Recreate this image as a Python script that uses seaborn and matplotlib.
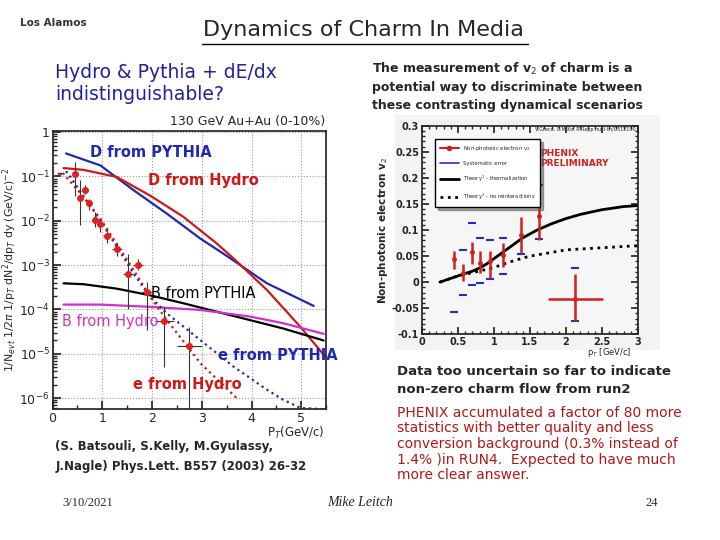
import numpy as np
import pandas as pd
import matplotlib
matplotlib.use("Agg")
import matplotlib.pyplot as plt
import seaborn as sns
from matplotlib.lines import Line2D
from matplotlib.patches import Rectangle

sns.set_theme(style="ticks")
plt.rcParams['font.family'] = ['DejaVu Sans']

# ---- left plot: pT spectra (log10 values) ----
d_pythia_x = [0.27, 0.96, 1.63, 2.30, 2.97, 3.50, 4.31, 5.25]
d_pythia_y = [-0.48, -0.75, -1.31, -1.84, -2.40, -2.79, -3.41, -3.92]
d_hydro_x = [0.22, 0.62, 1.29, 1.96, 2.63, 3.30, 3.64, 4.31, 4.98, 5.48]
d_hydro_y = [-0.81, -0.85, -1.01, -1.43, -1.91, -2.51, -2.85, -3.56, -4.39, -5.06]
b_pythia_x = [0.22, 0.62, 1.29, 1.96, 2.63, 3.30, 3.97, 4.64, 5.45]
b_pythia_y = [-3.41, -3.43, -3.53, -3.68, -3.86, -4.05, -4.24, -4.43, -4.70]
b_hydro_x = [0.22, 0.96, 1.96, 2.97, 3.97, 4.64, 5.45]
b_hydro_y = [-3.89, -3.89, -3.94, -4.01, -4.16, -4.31, -4.55]
e_pythia_x = [0.15, 0.29, 0.96, 1.63, 1.96, 2.30, 2.97, 3.64, 4.31, 4.64, 4.98, 5.45]
e_pythia_y = [-0.95, -0.90, -1.99, -3.19, -3.71, -4.09, -4.69, -5.29, -5.81, -6.04, -6.22, -6.25]
e_hydro_x = [0.0, 0.19, 0.62, 0.96, 1.63, 1.96, 2.30, 2.97, 3.74]
e_hydro_y = [-1.01, -0.90, -1.46, -1.95, -3.11, -3.71, -4.24, -5.21, -6.04]

spec_x = [0.46, 0.56, 0.66, 0.74, 0.86, 0.96, 1.09, 1.29, 1.51, 1.71, 1.90, 2.25, 2.75]
spec_y = [-0.95, -1.48, -1.30, -1.60, -1.99, -2.08, -2.35, -2.63, -3.21, -3.00, -3.60, -4.26, -4.82]
spec_hi = [-0.68, -1.09, -1.20, -1.50, -1.80, -1.95, -2.20, -2.50, -2.74, -2.85, -3.39, -3.94, -4.39]
spec_lo = [-1.45, -2.10, -1.40, -1.75, -2.15, -2.25, -2.50, -2.80, -3.99, -3.10, -4.46, -5.29, -6.30]
spec_xerr = [0.05, 0.05, 0.05, 0.05, 0.05, 0.05, 0.08, 0.1, 0.1, 0.1, 0.1, 0.2, 0.25]

# ---- right plot: v2 ----
v2_x = [0.45, 0.57, 0.69, 0.81, 0.94, 1.12, 1.37, 1.62, 2.13]
v2_y = [0.045, 0.018, 0.057, 0.037, 0.040, 0.052, 0.090, 0.127, -0.033]
v2_hi = [0.060, 0.035, 0.078, 0.060, 0.060, 0.075, 0.125, 0.175, 0.015]
v2_lo = [0.025, 0.003, 0.035, 0.018, 0.008, 0.030, 0.055, 0.080, -0.075]
v2_xerr = [0, 0, 0, 0, 0, 0, 0, 0, 0.38]
sys_hi = [0.145, 0.062, 0.114, 0.085, 0.080, 0.085, 0.150, 0.187, 0.028]
sys_lo = [-0.057, -0.025, -0.006, -0.002, 0.006, 0.015, 0.054, 0.082, -0.075]
therm_x = [0.25, 0.5, 0.7, 0.8, 0.9, 1.0, 1.2, 1.4, 1.6, 1.8, 2.0, 2.2, 2.5, 2.8, 3.0]
therm_y = [0.0, 0.012, 0.021, 0.027, 0.035, 0.045, 0.065, 0.085, 0.100, 0.112, 0.122, 0.130, 0.139, 0.145, 0.147]
norsc_x = [0.25, 0.5, 0.7, 1.0, 1.2, 1.5, 1.8, 2.0, 2.5, 3.0]
norsc_y = [0.0, 0.012, 0.018, 0.028, 0.038, 0.050, 0.057, 0.062, 0.066, 0.070]

fig = plt.figure(figsize=(7.2, 5.4), dpi=100)
fig.patch.set_facecolor('white')

# slide texts
fig.text(0.505, 0.945, "Dynamics of Charm In Media", ha='center', va='center', fontsize=16)
fig.add_artist(Line2D([0.28, 0.733], [0.918, 0.918], color='black', lw=1))
fig.text(0.028, 0.958, "Los Alamos", fontsize=7.5, fontweight='bold', color='#333333', va='center')
fig.text(0.077, 0.845, "Hydro & Pythia + dE/dx\nindistinguishable?", color='#2020a0',
         fontsize=13.5, va='center', linespacing=1.2)
fig.text(0.517, 0.84, "The measurement of v$_2$ of charm is a\npotential way to discriminate between\n"
         "these contrasting dynamical scenarios", fontsize=9, fontweight='bold',
         va='center', linespacing=1.45)
fig.text(0.551, 0.295, "Data too uncertain so far to indicate\nnon-zero charm flow from run2",
         fontsize=9.5, fontweight='bold', va='center', linespacing=1.45)
fig.text(0.551, 0.178, "PHENIX accumulated a factor of 80 more\nstatistics with better quality and less\n"
         "conversion background (0.3% instead of\n1.4% )in RUN4.  Expected to have much\n"
         "more clear answer.", color='#b01818', fontsize=10, va='center', linespacing=1.15)
fig.text(0.077, 0.155, "(S. Batsouli, S.Kelly, M.Gyulassy,\nJ.Nagle) Phys.Lett. B557 (2003) 26-32",
         fontsize=8.5, fontweight='bold', va='center', linespacing=1.65)
fig.text(0.086, 0.069, "3/10/2021", fontsize=9, family='Liberation Serif', va='center')
fig.text(0.5, 0.069, "Mike Leitch", fontsize=10, family='Liberation Serif', style='italic', ha='center', va='center')
fig.text(0.905, 0.069, "24", fontsize=9, family='Liberation Serif', ha='center', va='center')

# ---------------- left axes ----------------
ax = fig.add_axes([0.073, 0.243, 0.380, 0.514])
curves = [
    (d_pythia_x, d_pythia_y, '#1f28b0', '-'),
    (d_hydro_x, d_hydro_y, '#d01818', '-'),
    (b_pythia_x, b_pythia_y, 'black', '-'),
    (b_hydro_x, b_hydro_y, '#d030d0', '-'),
    (e_pythia_x, e_pythia_y, '#1f28b0', ':'),
    (e_hydro_x, e_hydro_y, '#d01818', ':'),
]
for cx, cy, col, ls in curves:
    df = pd.DataFrame({'pt': cx, 'val': np.power(10.0, cy)})
    sns.lineplot(data=df, x='pt', y='val', ax=ax, color=col, linestyle=ls, lw=1.6)

sy = np.power(10.0, spec_y)
yerr = [sy - np.power(10.0, spec_lo), np.power(10.0, spec_hi) - sy]
ax.errorbar(spec_x, sy, yerr=yerr, xerr=spec_xerr, fmt='o', color='#333333', ecolor='#333333',
            elinewidth=0.8, ms=4, mfc='#e02020', mec='#e02020', capsize=0)
ax.set_yscale('log')
ax.set_xlim(0, 5.5)
ax.set_ylim(10 ** -6.24, 1.05)
ax.set_xticks([0, 1, 2, 3, 4, 5])
ax.set_yticks([1, 1e-1, 1e-2, 1e-3, 1e-4, 1e-5, 1e-6])
ax.set_yticklabels(['1', '$10^{-1}$', '$10^{-2}$', '$10^{-3}$', '$10^{-4}$', '$10^{-5}$', '$10^{-6}$'])
ax.tick_params(labelsize=9, direction='in', length=6, pad=2)
ax.tick_params(which='minor', direction='in', length=3)
ax.xaxis.set_minor_locator(matplotlib.ticker.MultipleLocator(0.5))
ax.grid(True, which='major', linestyle=':', color='#999999', lw=0.8)
ax.set_xlabel('')
ax.set_ylabel(r'1/N$_{evt}$ 1/2$\pi$ 1/p$_T$ dN$^2$/dp$_T$ dy (GeV/c)$^{-2}$', fontsize=7.8, labelpad=0)
ax.text(0.995, -0.058, r'P$_T$(GeV/c)', transform=ax.transAxes, ha='right', va='top', fontsize=8.5)
ax.text(0.995, 1.01, '130 GeV Au+Au (0-10%)', transform=ax.transAxes, ha='right', va='bottom', fontsize=9)

ann = [
    (0.76, -0.46, 'D from PYTHIA', '#1f28b0', 'bold'),
    (1.91, -1.09, 'D from Hydro', '#d01818', 'bold'),
    (1.97, -3.63, 'B from PYTHIA', 'black', 'normal'),
    (0.18, -4.28, 'B from Hydro', '#d030d0', 'normal'),
    (3.32, -5.04, 'e from PYTHIA', '#1f28b0', 'bold'),
    (1.61, -5.70, 'e from Hydro', '#d01818', 'bold'),
]
for tx, ty, s, col, fw in ann:
    ax.text(tx, 10 ** ty, s, color=col, fontsize=10.5, fontweight=fw, va='center')

# ---------------- right axes ----------------
fig.add_artist(Rectangle((0.549, 0.352), 0.368, 0.435, transform=fig.transFigure,
                         facecolor='#f3f3f3', edgecolor='none', zorder=-1))
ax2 = fig.add_axes([0.586, 0.381, 0.300, 0.386])
ax2.set_facecolor('#f6f6f6')
sns.lineplot(x=therm_x, y=therm_y, ax=ax2, color='black', lw=2)
sns.lineplot(x=norsc_x, y=norsc_y, ax=ax2, color='black', lw=2, linestyle=':')
ax2.plot(v2_x, sys_hi, '_', color='#2030c0', ms=6, mew=1.5)
ax2.plot(v2_x, sys_lo, '_', color='#2030c0', ms=6, mew=1.5)
vy = np.array(v2_y)
ax2.errorbar(v2_x, vy, yerr=[vy - np.array(v2_lo), np.array(v2_hi) - vy], xerr=v2_xerr,
             fmt='o', color='#d02020', ms=2.5, elinewidth=1.8, capsize=0)
ax2.set_xlim(0, 3)
ax2.set_ylim(-0.1, 0.3)
ax2.set_xticks([0, 0.5, 1, 1.5, 2, 2.5, 3])
ax2.set_xticklabels(['0', '0.5', '1', '1.5', '2', '2.5', '3'])
ax2.set_yticks([-0.1, -0.05, 0, 0.05, 0.1, 0.15, 0.2, 0.25, 0.3])
ax2.set_yticklabels(['-0.1', '-0.05', '0', '0.05', '0.1', '0.15', '0.2', '0.25', '0.3'])
ax2.xaxis.set_minor_locator(matplotlib.ticker.MultipleLocator(0.1))
ax2.yaxis.set_minor_locator(matplotlib.ticker.MultipleLocator(0.01))
ax2.tick_params(labelsize=7, direction='in', length=5, top=True, right=True, pad=2)
ax2.tick_params(which='minor', direction='in', length=2.5, top=True, right=True)
for lab in ax2.get_xticklabels() + ax2.get_yticklabels():
    lab.set_fontweight('bold')
ax2.set_ylabel(r'Non-photonic electron v$_2$', fontsize=7.5, fontweight='bold', labelpad=1)
ax2.text(0.97, -0.055, r'p$_T$ [GeV/c]', transform=ax2.transAxes, ha='right', va='top', fontsize=6)
ax2.text(0.99, 0.995, 'V.Greco, C.M.Ko, R.Rapp nucl-th/0312100', transform=ax2.transAxes,
         ha='right', va='top', fontsize=3.5)
ax2.text(1.64, 0.256, 'PHENIX\nPRELIMINARY', color='#d02020', fontsize=6.5, fontweight='bold', va='top')
handles = [
    Line2D([], [], color='#d02020', marker='o', ms=3, lw=1.5),
    Line2D([], [], color='#2030c0', lw=1.2),
    Line2D([], [], color='black', lw=2),
    Line2D([], [], color='black', lw=2, linestyle=':'),
]
labels = [r'Non-photonic electron v$_2$', 'Systematic error',
          r'Theory$^1$ - thermalization', r'Theory$^1$ - no reinteractions']
ax2.legend(handles, labels, loc='upper left', bbox_to_anchor=(0.05, 0.95), fontsize=3.8,
           frameon=True, fancybox=False, shadow=True, edgecolor='black', framealpha=1,
           handlelength=3.5, labelspacing=1.5, borderpad=0.9)

fig.savefig('out.png', dpi=100)
